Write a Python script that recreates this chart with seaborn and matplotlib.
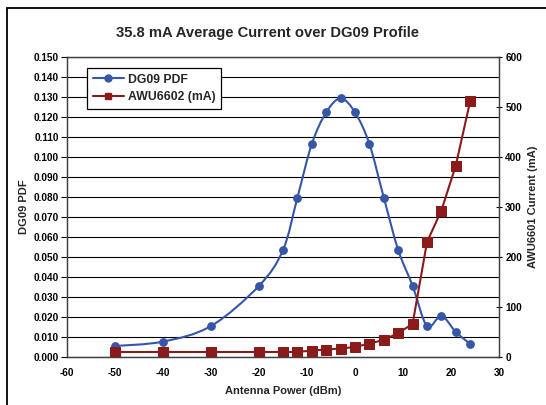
import numpy as np
import pandas as pd
import matplotlib
matplotlib.use("Agg")
import matplotlib.pyplot as plt
from matplotlib.path import Path
from matplotlib.patches import PathPatch, Rectangle
from matplotlib.lines import Line2D
import seaborn as sns

# ---- data ----
antenna_dbm = [-50, -40, -30, -20, -15, -12, -9, -6, -3, 0, 3, 6, 9, 12, 15, 18, 21, 24]
dg09_pdf = [0.0055, 0.0077, 0.0155, 0.0356, 0.0535, 0.0797, 0.1065, 0.1223, 0.1293,
            0.1223, 0.1065, 0.0797, 0.0535, 0.0356, 0.0155, 0.0205, 0.0125, 0.0065]
awu_current = [10, 10, 10, 10, 10, 10, 13, 15, 17, 20, 27, 34, 48, 66, 230, 293, 383, 512]

title = "35.8 mA Average Current over DG09 Profile"
xlabel = "Antenna Power (dBm)"
ylabel_left = "DG09 PDF"
ylabel_right = "AWU6601 Current (mA)"
legend_pdf = "DG09 PDF"
legend_cur = "AWU6602 (mA)"

df = pd.DataFrame({"dbm": antenna_dbm, "pdf": dg09_pdf, "cur": awu_current})

sns.set_style("white")
plt.rcParams["font.family"] = ["Liberation Sans", "DejaVu Sans"]
plt.rcParams["font.weight"] = "bold"
plt.rcParams["axes.unicode_minus"] = False

BLUE = "#3656A8"
RED = "#8B1A1A"

fig = plt.figure(figsize=(5.46, 4.05), dpi=100)
ax = fig.add_axes([67 / 546, 1 - 357 / 405, (499 - 67) / 546, 300 / 405])
ax2 = ax.twinx()


def smooth_path(xs, ys):
    """Excel-style smoothed line (Catmull-Rom Bezier) through the data points."""
    pts = np.column_stack([xs, ys]).astype(float)
    verts = [tuple(pts[0])]
    codes = [Path.MOVETO]
    n = len(pts)
    for i in range(n - 1):
        p0 = pts[i - 1] if i > 0 else pts[i]
        p1 = pts[i]
        p2 = pts[i + 1]
        p3 = pts[i + 2] if i + 2 < n else pts[i + 1]
        c1 = p1 + (p2 - p0) / 6.0
        c2 = p2 - (p3 - p1) / 6.0
        verts += [tuple(c1), tuple(c2), tuple(p2)]
        codes += [Path.CURVE4] * 3
    return Path(verts, codes)


ax.add_patch(PathPatch(smooth_path(df["dbm"], df["pdf"]), facecolor="none",
                       edgecolor=BLUE, lw=1.5, zorder=3))
sns.scatterplot(data=df, x="dbm", y="pdf", ax=ax, color=BLUE, marker="o",
                s=40, edgecolor=BLUE, linewidth=0, zorder=4, legend=False)

sns.lineplot(data=df, x="dbm", y="cur", ax=ax2, color=RED, lw=1.5,
             marker="s", markersize=6.5, markeredgecolor=RED, legend=False)

# axes ranges & ticks
ax.set_xlim(-60, 30)
ax.set_ylim(0, 0.150)
ax2.set_ylim(0, 600)
ax.set_xticks(np.arange(-60, 31, 10))
ax.set_yticks(np.arange(0, 0.1501, 0.01))
ax.set_yticklabels([f"{v:.3f}" for v in np.arange(0, 0.1501, 0.01)])
ax2.set_yticks(np.arange(0, 601, 100))

ax.yaxis.grid(True, color="black", lw=0.8)
ax.xaxis.grid(False)
ax.set_axisbelow(True)

ax.tick_params(axis="both", labelsize=7.2, length=4, width=0.8, direction="out",
               colors="black", pad=2)
ax.tick_params(axis="x", pad=4)
ax2.tick_params(axis="y", labelsize=7.2, length=5, width=0.8, direction="inout",
                colors="black", pad=2)
for lab in ax.get_xticklabels() + ax.get_yticklabels() + ax2.get_yticklabels():
    lab.set_fontweight("bold")

for a in (ax, ax2):
    for s in a.spines.values():
        s.set_color("#404040")
        s.set_linewidth(0.9)

ax.set_xlabel(xlabel, fontsize=8, fontweight="bold", labelpad=6)
ax.set_ylabel(ylabel_left, fontsize=8, fontweight="bold", labelpad=3)
ax2.set_ylabel(ylabel_right, fontsize=8, fontweight="bold", labelpad=4, rotation=90)

fig.text(268 / 546, 1 - 33 / 405, title, fontsize=10.6, fontweight="bold",
         ha="center", va="center")

handles = [Line2D([], [], color=BLUE, lw=1.5, marker="o", markersize=5),
           Line2D([], [], color=RED, lw=1.5, marker="s", markersize=5)]
leg = ax.legend(handles, [legend_pdf, legend_cur], loc="upper left",
                bbox_to_anchor=(20 / 432, (357 - 68) / 300), borderaxespad=0,
                frameon=True, fancybox=False, prop={"size": 8.8, "weight": "bold"},
                handlelength=2.6, handletextpad=0.3, labelspacing=0.45,
                borderpad=0.45, framealpha=1)
leg.get_frame().set_edgecolor("black")
leg.get_frame().set_linewidth(0.9)
leg.set_zorder(10)

# chart-area border (top and left visible in reference)
fig.patches.append(Rectangle((7 / 546, -0.1), 2.0, 1 - 8 / 405 + 0.1,
                             transform=fig.transFigure, fill=False,
                             edgecolor="black", lw=1.3))

fig.savefig("out.png", dpi=100)
